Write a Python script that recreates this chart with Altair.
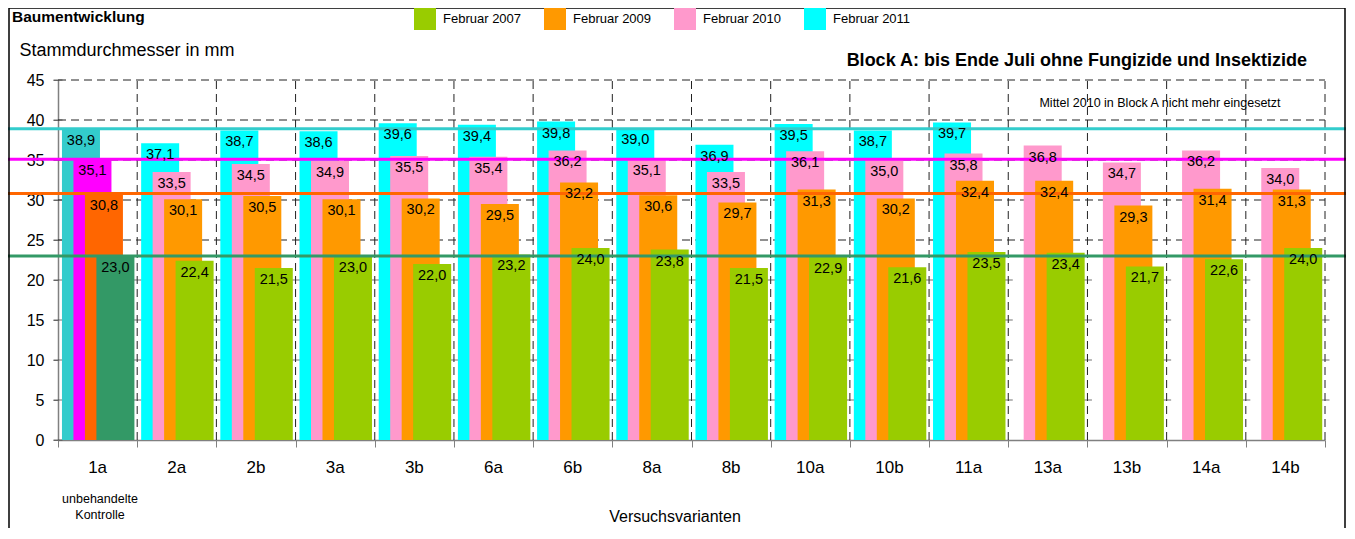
import altair as alt
import pandas as pd

# ---------------- data ----------------
categories = ["1a", "2a", "2b", "3a", "3b", "6a", "6b", "8a", "8b",
              "10a", "10b", "11a", "13a", "13b", "14a", "14b"]
feb_2011 = [38.9, 37.1, 38.7, 38.6, 39.6, 39.4, 39.8, 39.0, 36.9, 39.5, 38.7, 39.7,
            None, None, None, None]
feb_2010 = [35.1, 33.5, 34.5, 34.9, 35.5, 35.4, 36.2, 35.1, 33.5, 36.1, 35.0, 35.8,
            36.8, 34.7, 36.2, 34.0]
feb_2009 = [30.8, 30.1, 30.5, 30.1, 30.2, 29.5, 32.2, 30.6, 29.7, 31.3, 30.2, 32.4,
            32.4, 29.3, 31.4, 31.3]
feb_2007 = [23.0, 22.4, 21.5, 23.0, 22.0, 23.2, 24.0, 23.8, 21.5, 22.9, 21.6, 23.5,
            23.4, 21.7, 22.6, 24.0]

series_names = ["Februar 2011", "Februar 2010", "Februar 2009", "Februar 2007"]  # back -> front
series_values = [feb_2011, feb_2010, feb_2009, feb_2007]
legend_order = ["Februar 2007", "Februar 2009", "Februar 2010", "Februar 2011"]
colors_normal = ["#99CC00", "#FF9900", "#FF99CC", "#00FFFF"]
colors_control = ["#339966", "#FF6600", "#FF00FF", "#33CCCC"]
control_prefix = "Kontrolle "

y_ticks = list(range(0, 50, 5))
grid_levels = [25, 30, 35, 40, 45]
cross_levels = [5, 10, 15, 20]

FONT = "Liberation Sans"
W, H = 1267, 360

# ---------------- tables ----------------
rows = []
for s_idx, (name, vals) in enumerate(zip(series_names, series_values)):
    for i, (cat, v) in enumerate(zip(categories, vals)):
        if v is None:
            continue
        rows.append({
            "cat": cat, "idx": i, "s": s_idx, "series": name,
            "key": (control_prefix + name) if i == 0 else name,
            "value": v,
        })
bars_df = pd.DataFrame(rows)

control_df = bars_df[bars_df["idx"] == 0].copy()
cat_df = pd.DataFrame({"cat": categories, "idx": range(len(categories))})
bound_df = pd.DataFrame({"b": list(range(1, len(categories) + 1))})
bound_df["y0"] = 0
bound_df["y1"] = max(y_ticks)
hgrid_df = pd.DataFrame({"lvl": grid_levels})
hgrid_df["x0"] = 0
hgrid_df["x1"] = len(categories)
cross_rows = [{"b": b, "lvl": l} for b in range(1, len(categories) + 1) for l in cross_levels]
cross_rows += [{"b": 0, "lvl": l} for l in y_ticks]
cross_df = pd.DataFrame(cross_rows)

xscale = alt.Scale(domain=[0, len(categories)], nice=False, zero=False)
yscale = alt.Scale(domain=[0, 45], nice=False)

xaxis = alt.Axis(values=list(range(len(categories) + 1)), labels=False,
                 grid=False, title=None, tickSize=7, tickColor="#808080",
                 domainColor="#808080", domainWidth=1.5)
yaxis = alt.Axis(values=y_ticks, grid=False, tickSize=5, tickColor="#808080",
                 domainColor="#808080", domainWidth=1.5,
                 labelFontSize=16, labelColor="black", labelFont=FONT,
                 labelPadding=9,
                 title="Stammdurchmesser in mm", titleAngle=0,
                 titleAlign="left", titleBaseline="middle",
                 titleX=-39, titleY=-30, titleFontSize=18,
                 titleFontWeight="normal", titleFont=FONT,
                 titleColor="black")

color_scale = alt.Scale(
    domain=legend_order + [control_prefix + s for s in legend_order],
    range=colors_normal + colors_control,
)

# ---------------- layers ----------------
hgrid = alt.Chart(hgrid_df).mark_rule(
    color="#222222", strokeWidth=1, strokeDash=[8, 5]
).encode(
    x=alt.X("x0:Q", scale=xscale, axis=xaxis),
    x2="x1:Q",
    y=alt.Y("lvl:Q", scale=yscale, axis=yaxis),
)

vgrid = alt.Chart(bound_df).mark_rule(
    color="#222222", strokeWidth=1, strokeDash=[8, 5]
).encode(
    x=alt.X("b:Q", scale=xscale, axis=xaxis),
    y=alt.Y("y0:Q", scale=yscale, axis=yaxis),
    y2="y1:Q",
)

cross = alt.Chart(cross_df).mark_tick(
    orient="horizontal", size=9, thickness=1, color="#333333"
).encode(
    x=alt.X("b:Q", scale=xscale, axis=xaxis),
    y=alt.Y("lvl:Q", scale=yscale, axis=yaxis),
)

bars = alt.Chart(bars_df).transform_calculate(
    x0="datum.idx + 0.05 + datum.s * 0.145",
    x1="datum.idx + 0.53 + datum.s * 0.145",
).mark_rect(strokeWidth=0).encode(
    x=alt.X("x0:Q", scale=xscale, axis=xaxis),
    x2="x1:Q",
    y=alt.Y("value:Q", scale=yscale, axis=yaxis),
    y2=alt.datum(0),
    color=alt.Color("key:N", scale=color_scale,
                    legend=alt.Legend(values=legend_order, title=None, orient="none",
                                      legendX=356, legendY=-72, direction="horizontal",
                                      symbolType="square", symbolSize=484,
                                      symbolStrokeWidth=0, symbolOpacity=1,
                                      labelFont=FONT,
                                      labelFontSize=13, labelColor="black",
                                      labelOffset=7, columnPadding=22,
                                      labelLimit=200)),
)

reflines = alt.Chart(control_df).mark_rule(strokeWidth=3).encode(
    x=alt.value(-50), x2=alt.value(1290),
    y=alt.Y("value:Q", scale=yscale, axis=yaxis),
    color=alt.Color("key:N", scale=color_scale, legend=None),
)

labels = alt.Chart(bars_df).transform_calculate(
    xm="datum.idx + 0.29 + datum.s * 0.145",
    lab="replace(format(datum.value, '.1f'), '.', ',')",
).mark_text(
    font=FONT, fontSize=14.5, color="black", align="center", baseline="middle", dy=12
).encode(
    x=alt.X("xm:Q", scale=xscale, axis=xaxis),
    y=alt.Y("value:Q", scale=yscale, axis=yaxis),
    text="lab:N",
)

cat_labels = alt.Chart(cat_df).transform_calculate(
    xc="datum.idx + 0.5"
).mark_text(
    font=FONT, fontSize=17, color="black", align="center", baseline="middle"
).encode(
    x=alt.X("xc:Q", scale=xscale, axis=xaxis),
    y=alt.value(388),
    text="cat:N",
)

frame = alt.Chart(alt.Data(values=[{"a": 1}])).mark_rect(
    fillOpacity=0, stroke="black", strokeWidth=1.5
).encode(x=alt.value(-49), x2=alt.value(1287), y=alt.value(-72), y2=alt.value(470))

annot_rows = [
    ("Baumentwicklung", -46, -63, 15.5, "bold", "left"),
    ("Block A: bis Ende Juli ohne Fungizide und Insektizide", 1249, -19, 18, "bold", "right"),
    ("Mittel 2010 in Block A nicht mehr eingesetzt", 1102, 23, 12.5, "normal", "center"),
    ("unbehandelte", 42, 419, 12.5, "normal", "center"),
    ("Kontrolle", 42, 435, 12.5, "normal", "center"),
    ("Versuchsvarianten", 617, 437, 16, "normal", "center"),
]

annots = []
for t, px, py, fs, fw, al in annot_rows:
    annots.append(
        alt.Chart(alt.Data(values=[{"t": t}])).mark_text(
            font=FONT, fontSize=fs, fontWeight=fw, align=al,
            baseline="middle", color="black"
        ).encode(x=alt.value(px), y=alt.value(py), text="t:N")
    )

chart = alt.layer(
    hgrid, vgrid, cross, bars, reflines, labels, cat_labels, frame, *annots
).properties(
    width=W, height=H,
    autosize=alt.AutoSizeParams(type="none"),
    padding={"left": 50, "top": 72, "right": 21, "bottom": 88},
    background="white",
).configure_view(strokeWidth=0)

chart.save("out.html", embed_options={"renderer": "svg", "actions": False})
